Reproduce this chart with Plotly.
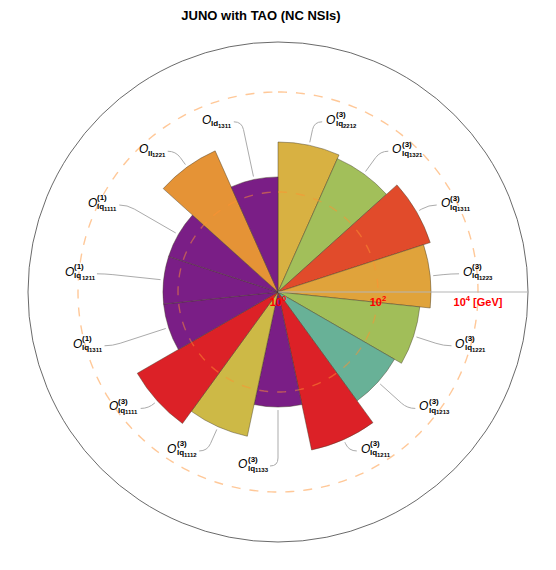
import numpy as np
import plotly.graph_objects as go

# sectors listed clockwise, starting at 12 o'clock
flavour = ["lq", "lq", "lq", "lq", "lq", "lq", "lq", "lq", "lq", "lq", "lq", "lq", "lq", "ll", "ld"]
indices = ["2212", "1321", "1311", "1223", "1221", "1213", "1211", "1133", "1112", "1111",
           "1311", "1211", "1111", "1221", "1311"]
triplet = ["3", "3", "3", "3", "3", "3", "3", "3", "3", "3", "1", "1", "1", "", ""]
scale_gev = [1000, 830, 1590, 1150, 710, 490, 1700, 200, 890, 1780, 200, 200, 200, 1230, 200]
colors = ["#D8B142", "#A2BF5A", "#E14B2B", "#E0A33B", "#A1BE59", "#68B197", "#DC2127",
          "#7A1E86", "#CDB946", "#DC2127", "#7A1E86", "#7A1E86", "#7A1E86", "#E59336", "#7A1E86"]
tick_vals = [1, 1e2, 1e4]
tick_text = ["10<sup>0</sup>", "10<sup>2</sup>", "10<sup>4</sup> [GeV]"]

W, H = 556, 570
# the page body adds 8px, so the plot is nudged up/left to compensate
L, R, T, B = 20, 36, 34, 36
rad_px = (W - L - R) / 2          # radius of the polar disc in px
decades = 5                       # radial range 10^0 .. 10^5

n = len(scale_gev)
step = 360 / n
theta = [step / 2 + step * i for i in range(n)]

fig = go.Figure()
fig.add_trace(go.Barpolar(
    r=scale_gev, theta=theta, width=step,
    marker=dict(color=colors, line=dict(color="rgba(70,60,40,0.75)", width=0.6)),
    hoverinfo="skip", showlegend=False))

# dashed reference circles at 10^2 and 10^4
ring = np.linspace(0, 360, 361)
for tv in tick_vals[1:]:
    fig.add_trace(go.Scatterpolar(
        r=[tv] * len(ring), theta=ring, mode="lines",
        line=dict(color="rgba(255,145,50,0.5)", dash="dash", width=1.4),
        hoverinfo="skip", showlegend=False))


def to_paper(dx, dy):
    return 0.5 + dx / (W - L - R), 0.5 + dy / (H - T - B)


shapes, annotations = [], []
elbow_r, tail, gap = 174, 8, 3
f_o, f_f, f_d, f_s = 12, 8, 6, 8
for i in range(n):
    ang = np.radians(90 - theta[i])
    rb = rad_px * np.log10(scale_gev[i]) / decades
    c, s = np.cos(ang), np.sin(ang)
    side = 1 if c > 0.01 else -1
    p0 = (c * (rb + 3), s * (rb + 3))
    p1 = (c * (elbow_r - 8), s * (elbow_r - 8))
    p2 = (c * elbow_r, s * elbow_r)
    p3 = (p2[0] + side * tail, p2[1])
    pts = [to_paper(*p) for p in (p0, p1, p2, p3)]
    path = "M {},{} L {},{} Q {},{} {},{}".format(*[v for p in pts for v in p])
    shapes.append(dict(type="path", path=path, xref="paper", yref="paper",
                       line=dict(color="#ABABAB", width=1)))

    # label pieces: O, flavour subscript, index subscript, (n) superscript
    w_o = 0.778 * f_o
    w_f = {"lq": 0.889, "ll": 0.556, "ld": 0.889}[flavour[i]] * f_f
    w_d = 4 * 0.556 * f_d
    w_s = 1.222 * f_s if triplet[i] else 0
    total = w_o + max(w_f + w_d, w_s)
    ax, ay = to_paper(p3[0] + side * gap, p3[1] + 2)
    x0 = 0 if side > 0 else -total
    pieces = [("<i>O</i>", f_o, "normal", 0, 0),
              (flavour[i], f_f, "bold", w_o, -4),
              (indices[i], f_d, "bold", w_o + w_f, -6)]
    if triplet[i]:
        pieces.append(("(" + triplet[i] + ")", f_s, "bold", w_o, 5))
    for txt, size, weight, dx, dy in pieces:
        annotations.append(dict(
            text=txt, x=ax, y=ay, xref="paper", yref="paper", showarrow=False,
            xanchor="left", yanchor="middle", xshift=x0 + dx, yshift=dy, borderpad=0,
            font=dict(family="Liberation Sans, Arial", size=size, color="black", weight=weight)))

fig.update_layout(
    width=W, height=H,
    margin=dict(l=L, r=R, t=T, b=B, autoexpand=False),
    paper_bgcolor="white",
    font=dict(family="Liberation Sans, Arial"),
    title=dict(text="<b>JUNO with TAO (NC NSIs)</b>", x=253 / W, xanchor="center",
               y=1 - 3 / H, yanchor="top", yref="container", pad=dict(t=0, b=0),
               font=dict(size=13, color="black")),
    polar=dict(
        domain=dict(x=[0, 1], y=[0, 1]),
        bgcolor="white",
        radialaxis=dict(type="log", range=[0, decades], tickvals=tick_vals, ticktext=tick_text,
                        tickfont=dict(color="red", size=11, weight="bold"),
                        showgrid=False, showline=True, linecolor="#B5B5B5", linewidth=1,
                        ticks="", angle=0, layer="above traces"),
        angularaxis=dict(direction="clockwise", rotation=90, showgrid=False,
                         showticklabels=False, ticks="", showline=True,
                         linecolor="#444444", linewidth=0.8),
    ),
    shapes=shapes,
    annotations=annotations,
)

fig.write_html("out.html")
